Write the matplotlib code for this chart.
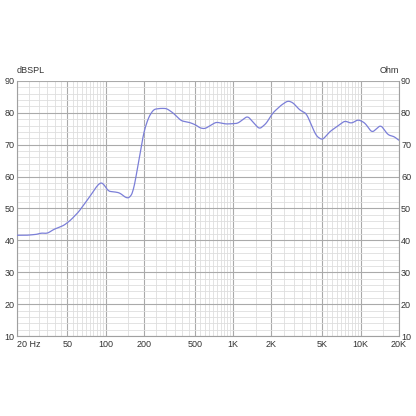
import numpy as np
from matplotlib import pyplot as plt
from matplotlib.ticker import FixedLocator, NullFormatter

# (Hz, dB)
freq = [20, 24, 29, 31, 35, 39, 47, 53, 61, 69, 76, 83, 91, 96, 105, 118,
        129, 145, 155, 165, 175, 187, 198, 217, 238, 267, 300, 338, 392, 455,
        512, 546, 600, 735, 880, 1086, 1300, 1425, 1610, 1820, 2050, 2380,
        2690, 2950, 3330, 3760, 4110, 4500, 5020, 5730, 6470, 7520, 8480,
        9560, 10780, 12300, 14400, 16400, 18500, 20000]
spl = [41.6, 41.6, 41.9, 42.3, 42.2, 43.4, 44.7, 46.3, 48.8, 51.7, 54.0, 56.4,
       58.2, 57.8, 55.4, 55.2, 54.9, 53.3, 53.4, 55.4, 61.1, 67.3, 73.6, 78.6,
       81.1, 81.4, 81.4, 80.0, 77.5, 77.0, 76.2, 75.3, 75.0, 77.1, 76.5, 76.7,
       79.0, 77.2, 74.9, 76.7, 80.0, 82.4, 83.8, 83.2, 80.9, 79.8, 76.2, 72.7,
       71.5, 74.1, 75.6, 77.5, 76.7, 77.9, 76.9, 73.8, 76.2, 73.1, 72.5, 71.3]

x_major = [20, 50, 100, 200, 500, 1000, 2000, 5000, 10000, 20000]
x_labels = ["20 Hz", "50", "100", "200", "500", "1K", "2K", "5K", "10K", "20K"]
y_major = [10, 20, 30, 40, 50, 60, 70, 80, 90]

plt.rcParams['font.family'] = ['Liberation Sans Narrow', 'Liberation Sans', 'DejaVu Sans']

fig = plt.figure(figsize=(4.16, 4.16), dpi=100)
ax = fig.add_axes([0.0397, 0.1923, 0.9193, 0.613])

# lekkie wygładzenie krzywej w skali log
lf = np.log10(freq)
xs = np.linspace(lf[0], lf[-1], 600)
ys = np.interp(xs, lf, spl)
k = np.ones(7) / 7
ys = np.convolve(np.pad(ys, 3, mode='edge'), k, mode='valid')
ax.plot(10 ** xs, ys, color='#7b7fd8', linewidth=0.9, zorder=3)

ax.set_xscale('log')
ax.set_xlim(20, 20000)
ax.set_ylim(10, 90)

# siatka pomocnicza co 0.5 w każdej dekadzie
minor_x = []
for d in [10, 100, 1000, 10000]:
    for m in np.arange(1.5, 10, 0.5):
        v = m * d
        if 20 < v < 20000 and v not in x_major:
            minor_x.append(v)
ax.xaxis.set_major_locator(FixedLocator(x_major))
ax.xaxis.set_minor_locator(FixedLocator(minor_x))
ax.xaxis.set_minor_formatter(NullFormatter())
ax.set_xticklabels(x_labels)
ax.set_yticks(y_major)
ax.set_yticks(np.arange(10, 91, 2), minor=True)

ax.grid(True, which='major', color='#aaaaaa', linewidth=0.8)
ax.grid(True, which='minor', color='#dedede', linewidth=0.6)
ax.set_axisbelow(True)

for s in ax.spines.values():
    s.set_color('#a0a0a0')
    s.set_linewidth(0.8)
ax.spines['top'].set_visible(False)

ax.tick_params(which='both', length=0, labelsize=6.5, colors='#333333')
ax.tick_params(axis='x', pad=3)
ax.tick_params(axis='y', right=True, labelright=True, pad=1.5)

# pierwsza etykieta przy lewej krawędzi
first = ax.get_xticklabels()[0]
first.set_horizontalalignment('left')
first.set_x(0)

ax.text(0.0, 1.025, "dBSPL", transform=ax.transAxes, fontsize=6.5,
        color='#333333', ha='left', va='bottom')
ax.text(1.0, 1.025, "Ohm", transform=ax.transAxes, fontsize=6.5,
        color='#333333', ha='right', va='bottom')

fig.savefig("out.png", dpi=100)
